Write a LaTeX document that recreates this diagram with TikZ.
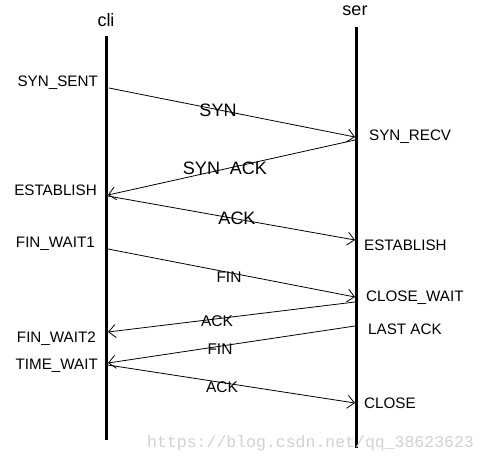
\documentclass[tikz,border=0pt]{standalone}
\usepackage{fontspec}
\setmainfont{Liberation Sans}
\newfontfamily\markfont{Liberation Mono}
\usetikzlibrary{arrows.meta}
\begin{document}
\begin{tikzpicture}[x=1pt,y=-1pt,
  state/.style={font=\fontsize{15.2}{17}\selectfont,inner sep=0pt},
  msg/.style={font=\fontsize{18}{20}\selectfont,inner sep=0pt},
  msgs/.style={font=\fontsize{15.5}{17}\selectfont,inner sep=0pt},
  sig/.style={-{Straight Barb[length=7pt,width=13pt]},line width=0.8pt}]
\useasboundingbox (0,0) rectangle (488,464);
% lifelines
\node[font=\fontsize{18}{20}\selectfont] (cli) at (106,20) {cli};
\node[font=\fontsize{18}{20}\selectfont] (ser) at (355,11) {ser};
\coordinate (clitop) at (106,36);
\coordinate (clibot) at (106,440);
\coordinate (sertop) at (356,27);
\coordinate (serbot) at (356,448);
\draw[line width=3pt] (clitop)--(clibot) (sertop)--(serbot);
% points on the lifelines
\coordinate (c1) at (109,88);
\coordinate (s1) at (355,137);
\coordinate (s2) at (355,140);
\coordinate (c2) at (108,195);
\coordinate (c3) at (108,196);
\coordinate (s3) at (355,240);
\coordinate (c4) at (108,249);
\coordinate (s4) at (355,297);
\coordinate (s5) at (355,302);
\coordinate (c5) at (108,332);
\coordinate (s6) at (355,326);
\coordinate (c6) at (108,363);
\coordinate (c7) at (108,365);
\coordinate (s7) at (355,403);
\draw[sig] (c1)--(s1);
\draw[sig] (s2)--(c2);
\draw[sig] (c3)--(s3);
\draw[sig] (c4)--(s4);
\draw[sig] (s5)--(c5);
\draw[sig] (s6)--(c6);
\draw[sig] (c7)--(s7);
% messages
\node[msg] (syn) at (218,110) {SYN};
\node[msg] (synack) at (225,168) {SYN\ \ ACK};
\node[msg] (ack1) at (237,218) {ACK};
\node[msgs] (fin1) at (229,277) {FIN};
\node[msgs] (ack2) at (217,321) {ACK};
\node[msgs] (fin2) at (220,349) {FIN};
\node[msgs] (ack3) at (222,387) {ACK};
% client states
\node[state,anchor=east] (sent) at (98,83) {SYN\_SENT};
\node[state,anchor=east] (estc) at (97,190) {ESTABLISH};
\node[state,anchor=east] (fw1) at (95,244) {FIN\_WAIT1};
\node[state,anchor=east] (fw2) at (96,339) {FIN\_WAIT2};
\node[state,anchor=east] (tw) at (98,366) {TIME\_WAIT};
% server states
\node[state,anchor=west] (recv) at (369,137) {SYN\_RECV};
\node[state,anchor=west] (ests) at (364,245) {ESTABLISH};
\node[state,anchor=west] (cw) at (366,298) {CLOSE\_WAIT};
\node[state,anchor=west] (la) at (368,329) {LAST ACK};
\node[state,anchor=west] (cl) at (364,403) {CLOSE};
\node[font=\markfont\fontsize{16.5}{18}\selectfont,text=black!18,inner sep=0pt,anchor=west] (mark) at (147,443) {https://blog.csdn.net/qq\_38623623};
\end{tikzpicture}
\end{document}
